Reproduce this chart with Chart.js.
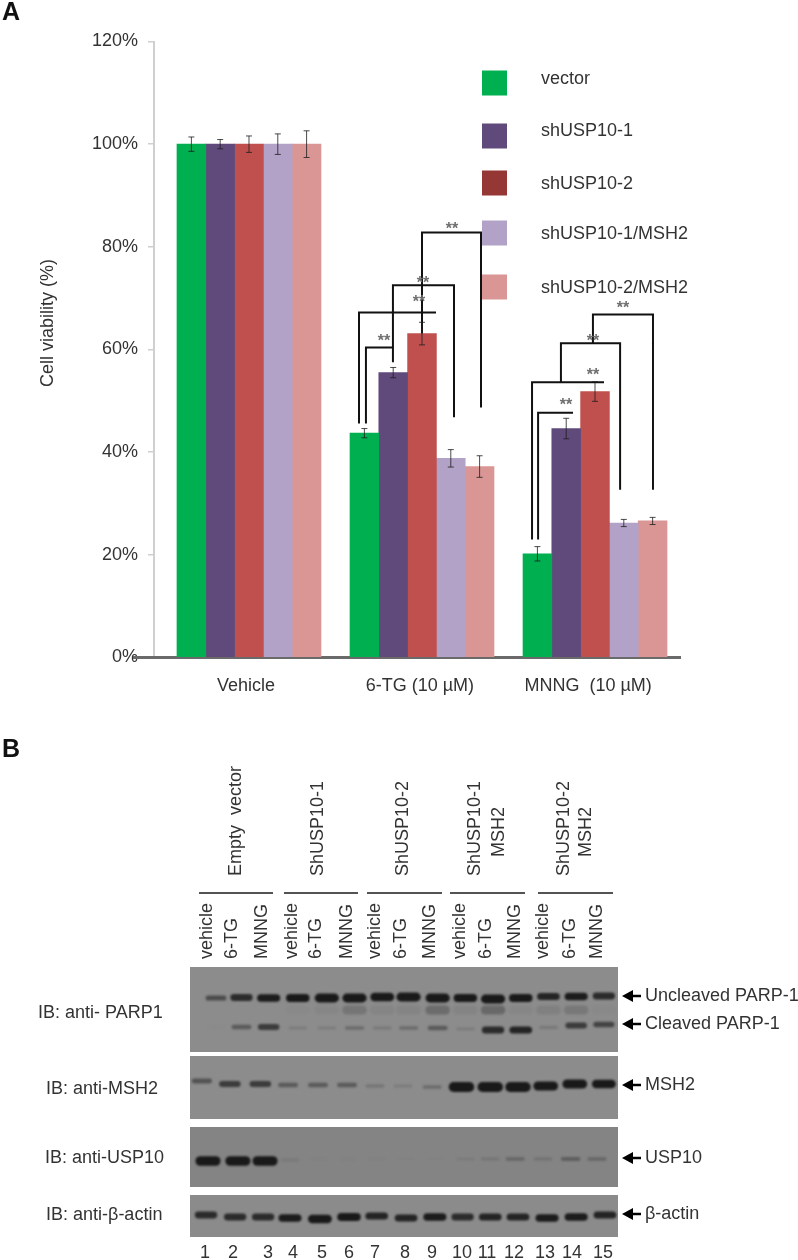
<!DOCTYPE html>
<html>
<head>
<meta charset="utf-8">
<script src="https://cdn.jsdelivr.net/npm/chart.js@4"></script>
<style>
  html, body { margin: 0; background: #fff; }
  body { width: 798px; height: 1260px; position: relative; overflow: hidden; }
  canvas { position: absolute; left: 0; display: block; filter: blur(0.4px); }
  #viabilityChart { top: 0; }
  #blotChart { top: 720px; }
</style>
</head>
<body>
<canvas id="viabilityChart" width="798" height="720"></canvas>
<canvas id="blotChart" width="798" height="540"></canvas>
<script>
const FONT = '"Liberation Sans", Arial, sans-serif';
const TEXT = '#333333';

// A: viability bars
const treatments = ['Vehicle', '6-TG (10 µM)', 'MNNG  (10 µM)'];
const groupPos = [1, 2, 3];
const labelPos = [0.983, 1.988, 2.96];
const yTicks = [0, 20, 40, 60, 80, 100, 120];
const seriesNames = ['vector', 'shUSP10-1', 'shUSP10-2', 'shUSP10-1/MSH2', 'shUSP10-2/MSH2'];
const barColors = ['#00b050', '#604a7b', '#c0504d', '#b2a2c7', '#d99694'];
const legendColors = ['#00b050', '#604a7b', '#953735', '#b2a2c7', '#d99694'];
const vector = [100, 43.7, 20.2];
const shUsp1 = [100, 55.5, 44.6];
const shUsp2 = [100, 63.1, 51.8];
const shUsp1Msh2 = [100, 38.8, 26.2];
const shUsp2Msh2 = [100, 37.2, 26.6];
const vectorErr = [1.4, 0.9, 1.4];
const shUsp1Err = [0.9, 1.0, 2.0];
const shUsp2Err = [1.6, 2.2, 1.9];
const shUsp1Msh2Err = [2.0, 1.7, 0.7];
const shUsp2Msh2Err = [2.6, 2.1, 0.7];

// significance brackets, in axis units [group position, percent]
const brackets = [
  [[1.636, 45.6], [1.636, 67.2], [2.081, 67.2]],
  [[1.676, 45.6], [1.676, 60.4], [1.832, 60.4], [1.832, 57.5]],
  [[1.832, 60.4], [1.832, 72.5], [2.185, 72.5], [2.185, 46.8]],
  [[2.0, 63.1], [2.0, 82.8], [2.341, 82.8], [2.341, 48.7]],
  [[2.636, 23.0], [2.636, 53.6], [3.052, 53.6]],
  [[2.671, 23.0], [2.671, 47.7], [2.873, 47.7]],
  [[2.803, 53.6], [2.803, 61.2], [3.145, 61.2], [3.145, 32.7]],
  [[2.988, 61.2], [2.988, 66.8], [3.335, 66.8], [3.335, 32.7]]
];
const starX = [2.173, 2.006, 1.983, 1.78, 3.162, 2.988, 2.988, 2.832];
const starY = [84.5, 74.0, 70.3, 62.7, 69.0, 62.7, 56.1, 50.1];

const seriesValues = [vector, shUsp1, shUsp2, shUsp1Msh2, shUsp2Msh2];
const seriesErrors = [vectorErr, shUsp1Err, shUsp2Err, shUsp1Msh2Err, shUsp2Msh2Err];

const barSets = seriesValues.map((vals, i) => ({
  type: 'bar',
  label: seriesNames[i],
  data: vals.map((v, j) => ({ x: groupPos[j], y: v })),
  backgroundColor: barColors[i],
  barThickness: 28.8,
  order: 2
}));
const bracketSets = brackets.map(b => ({
  type: 'line',
  data: b.map(p => ({ x: p[0], y: p[1] })),
  borderColor: '#111',
  borderWidth: 2,
  pointRadius: 0,
  tension: 0,
  order: 1
}));

const legendY = [83, 136, 183, 233, 287];
const legendTextY = [79, 131, 184, 234, 288];

const viabilityExtras = {
  id: 'viabilityExtras',
  beforeDatasetsDraw(chart) {
    const { ctx, scales: { y } } = chart;
    ctx.save();
    ctx.strokeStyle = '#6a6a6a';
    ctx.lineWidth = 3;
    ctx.beginPath();
    ctx.moveTo(133, y.getPixelForValue(0));
    ctx.lineTo(681, y.getPixelForValue(0));
    ctx.stroke();
    ctx.restore();
  },
  afterDatasetsDraw(chart) {
    const { ctx, scales: { x, y } } = chart;
    ctx.save();
    // error bars
    ctx.strokeStyle = 'rgba(30,30,30,.8)';
    ctx.lineWidth = 1;
    seriesErrors.forEach((errs, i) => {
      const bars = chart.getDatasetMeta(i).data;
      errs.forEach((e, j) => {
        const cx = bars[j].x;
        const top = y.getPixelForValue(seriesValues[i][j] + e);
        const bot = y.getPixelForValue(seriesValues[i][j] - e);
        ctx.beginPath();
        ctx.moveTo(cx, top); ctx.lineTo(cx, bot);
        ctx.moveTo(cx - 3, top); ctx.lineTo(cx + 3, top);
        ctx.moveTo(cx - 3, bot); ctx.lineTo(cx + 3, bot);
        ctx.stroke();
      });
    });
    // stars
    ctx.fillStyle = '#6f6f6f';
    ctx.font = 'bold 16px ' + FONT;
    ctx.textAlign = 'center';
    ctx.textBaseline = 'alphabetic';
    starX.forEach((sx, i) => {
      ctx.fillText('**', x.getPixelForValue(sx), y.getPixelForValue(starY[i]) + 10);
    });
    // legend
    ctx.textAlign = 'left';
    ctx.textBaseline = 'middle';
    ctx.font = '18px ' + FONT;
    seriesNames.forEach((name, i) => {
      ctx.fillStyle = legendColors[i];
      ctx.fillRect(482, legendY[i] - 12.5, 25, 25);
      ctx.fillStyle = TEXT;
      ctx.fillText(name, 541, legendTextY[i]);
    });
    // y title and panel letter
    ctx.save();
    ctx.translate(48, 323);
    ctx.rotate(-Math.PI / 2);
    ctx.textAlign = 'center';
    ctx.fillText('Cell viability (%)', 0, 0);
    ctx.restore();
    ctx.fillStyle = '#111';
    ctx.font = 'bold 25px ' + FONT;
    ctx.textBaseline = 'alphabetic';
    ctx.fillText('A', 2, 20);
    ctx.restore();
  }
};

new Chart(document.getElementById('viabilityChart'), {
  data: { datasets: [...barSets, ...bracketSets] },
  options: {
    responsive: false,
    animation: false,
    layout: { padding: { top: 41.5, right: 117, left: 0, bottom: 0 } },
    plugins: { legend: { display: false }, tooltip: { enabled: false } },
    scales: {
      x: {
        type: 'linear',
        offset: false,
        min: 0.451,
        max: 3.497,
        grid: { display: false, offset: false },
        border: { display: false },
        afterFit: s => { s.height = 62.5; },
        afterBuildTicks: s => { s.ticks = labelPos.map(value => ({ value })); },
        ticks: {
          autoSkip: false,
          maxRotation: 0,
          padding: 10,
          color: TEXT,
          font: { family: FONT, size: 18 },
          callback: (v, i) => treatments[i]
        }
      },
      y: {
        min: 0,
        max: 120,
        afterFit: s => { s.width = 154; },
        afterBuildTicks: s => { s.ticks = yTicks.map(value => ({ value })); },
        grid: { drawOnChartArea: false, color: '#cfcfcf', tickLength: 6, lineWidth: 1.5 },
        border: { color: '#cfcfcf', width: 2 },
        ticks: {
          padding: 10,
          color: TEXT,
          font: { family: FONT, size: 18 },
          callback: v => v + '%'
        }
      }
    }
  },
  plugins: [viabilityExtras]
});

// B: immunoblots, band x in lane units, band y in px below the top of the blot stack
const panelTop = [0, 89, 160, 228];
const panelBottom = [85, 152, 220, 270];
const panelGrey = ['#8c8c8c', '#8c8c8c', '#848484', '#8b8b8b'];

const parpLanes = [1, 1.92, 2.9, 3.95, 5, 6, 7, 7.95, 9, 10, 11, 12, 13, 14, 15];
const uncleavedY = [31, 30.5, 31, 31, 31, 31, 30, 30, 31, 31, 32, 31, 29.5, 29.5, 29];
const uncleavedLevel = [.4, .6, .7, .75, .85, .85, .8, .85, .85, .75, .85, .75, .65, .7, .6];
const cleavedY = [60, 60, 60, 61, 61, 61, 61, 61, 61, 62, 63, 63, 60.5, 58.5, 57.5];
const cleavedLevel = [.02, .3, .5, .1, .1, .2, .12, .2, .3, .1, .6, .65, .12, .5, .45];
const smearY = [43, 43, 43, 43, 43, 43, 43, 43, 43, 43, 43, 43, 43, 43, 43];
const smearLevel = [0, 0, 0, .01, .03, .14, .04, .05, .2, .05, .22, .03, .07, .12, .02];

const msh2Lanes = [.49, 1.5, 2.6, 3.6, 4.68, 5.73, 6.74, 7.75, 8.8, 9.86, 10.9, 11.9, 12.9, 13.95, 15];
const msh2Y = [114, 117, 117, 118, 118, 118, 119, 119, 120, 120, 120, 120, 119, 117, 117];
const msh2Level = [.35, .5, .5, .3, .3, .3, .15, .1, .2, 1, 1, 1, .9, .9, .8];

const usp10Lanes = [.71, 1.79, 2.77, 3.67, 4.7, 5.75, 6.8, 7.85, 8.9, 10, 10.9, 11.8, 12.8, 13.8, 14.75];
const usp10Y = [194, 194, 194, 193, 192, 192, 192, 192, 192, 192, 192, 192, 192, 192, 192];
const usp10Level = [.95, .95, .95, .08, .02, .02, .02, .01, .01, .06, .1, .2, .12, .25, .2];

const actinLanes = [.64, 1.69, 2.7, 3.67, 4.75, 5.8, 6.8, 7.86, 8.9, 9.9, 10.9, 11.9, 12.95, 14, 15.04];
const actinY = [248, 250, 250, 251, 252, 250, 249, 251, 250, 250, 250, 250, 251, 250, 248];
const actinLevel = [.6, .6, .6, .7, .8, .75, .65, .65, .7, .6, .65, .65, .7, .7, .65];

const laneWords = ['vehicle', '6-TG', 'MNNG'];
const laneWordX = [207, 232, 262, 292, 316, 347, 375, 401, 430, 460, 486, 515, 543, 570, 597];
const laneNumberX = [205, 233, 268, 293, 322, 349, 375, 405, 432, 462, 487, 514, 545, 572, 603];
const groupLines = [[199, 273], [284, 358], [367, 442], [450, 525], [538, 613]];
const groupTitles = [
  { x: 236, text: 'Empty  vector' },
  { x: 318, text: 'ShUSP10-1' },
  { x: 403, text: 'ShUSP10-2' },
  { x: 475, text: 'ShUSP10-1', second: { x: 499, text: 'MSH2' } },
  { x: 564, text: 'ShUSP10-2', second: { x: 586, text: 'MSH2' } }
];
const blotLabels = [
  ['IB: anti- PARP1', 38, 1013],
  ['IB: anti-MSH2', 46, 1089],
  ['IB: anti-USP10', 45, 1158],
  ['IB: anti-β-actin', 46, 1215]
];
const arrowLabels = [
  ['Uncleaved PARP-1', 996],
  ['Cleaved PARP-1', 1024],
  ['MSH2', 1085],
  ['USP10', 1158],
  ['β-actin', 1214]
];

function bandSet(lanes, ys, levels, fixedWidth) {
  const pts = [];
  lanes.forEach((x, i) => {
    pts.push({ x: x - 0.28, y: ys[i] }, { x: x + 0.28, y: ys[i] }, { x: x + 0.28, y: null });
  });
  const lvl = c => levels[Math.floor(c.p0DataIndex / 3)];
  return {
    type: 'line',
    data: pts,
    pointRadius: 0,
    borderCapStyle: 'round',
    borderColor: 'rgba(25,25,25,.8)',
    spanGaps: false,
    segment: {
      borderColor: c => 'rgba(25,25,25,' + Math.min(1, lvl(c) * 1.4).toFixed(3) + ')',
      borderWidth: c => fixedWidth || 2 + 8 * lvl(c)
    }
  };
}

const offsetY = 720;
const blotExtras = {
  id: 'blotExtras',
  beforeDatasetsDraw(chart) {
    const { ctx, chartArea: a, scales: { y } } = chart;
    panelTop.forEach((t, i) => {
      const top = y.getPixelForValue(t);
      ctx.fillStyle = panelGrey[i];
      ctx.fillRect(a.left, top, a.right - a.left, y.getPixelForValue(panelBottom[i]) - top);
    });
    ctx.save();
    ctx.filter = 'blur(1px)';
  },
  afterDatasetsDraw(chart) {
    const ctx = chart.ctx;
    ctx.restore();
    ctx.save();
    ctx.fillStyle = TEXT;
    ctx.font = '18px ' + FONT;

    const vertical = (text, x, y, align) => {
      ctx.save();
      ctx.translate(x, y - offsetY);
      ctx.rotate(-Math.PI / 2);
      ctx.textAlign = align;
      ctx.textBaseline = 'middle';
      ctx.fillText(text, 0, 0);
      ctx.restore();
    };
    laneWordX.forEach((x, i) => vertical(laneWords[i % 3], x, 959, 'left'));
    groupTitles.forEach(g => {
      vertical(g.text, g.x, 876, 'left');
      if (g.second) vertical(g.second.text, g.second.x, 832, 'center');
    });
    ctx.strokeStyle = '#1a1a1a';
    ctx.lineWidth = 1.5;
    groupLines.forEach(l => {
      ctx.beginPath();
      ctx.moveTo(l[0], 893 - offsetY);
      ctx.lineTo(l[1], 893 - offsetY);
      ctx.stroke();
    });

    ctx.textBaseline = 'middle';
    ctx.textAlign = 'center';
    laneNumberX.forEach((x, i) => ctx.fillText(String(i + 1), x, 1253 - offsetY));
    ctx.textAlign = 'left';
    blotLabels.forEach(l => ctx.fillText(l[0], l[1], l[2] - offsetY));

    arrowLabels.forEach(l => {
      const ay = l[1] - offsetY;
      ctx.fillStyle = '#000';
      ctx.strokeStyle = '#000';
      ctx.lineWidth = 2.5;
      ctx.beginPath();
      ctx.moveTo(622, ay); ctx.lineTo(633, ay - 6); ctx.lineTo(633, ay + 6);
      ctx.closePath();
      ctx.fill();
      ctx.beginPath();
      ctx.moveTo(630, ay); ctx.lineTo(641, ay);
      ctx.stroke();
      ctx.fillStyle = TEXT;
      ctx.fillText(l[0], 645, ay);
    });

    ctx.fillStyle = '#111';
    ctx.font = 'bold 25px ' + FONT;
    ctx.textBaseline = 'alphabetic';
    ctx.fillText('B', 2, 757 - offsetY);
    ctx.restore();
  }
};

new Chart(document.getElementById('blotChart'), {
  data: {
    datasets: [
      bandSet(parpLanes, smearY, smearLevel, 9),
      bandSet(parpLanes, uncleavedY, uncleavedLevel),
      bandSet(parpLanes, cleavedY, cleavedLevel),
      bandSet(msh2Lanes, msh2Y, msh2Level),
      bandSet(usp10Lanes, usp10Y, usp10Level),
      bandSet(actinLanes, actinY, actinLevel)
    ]
  },
  options: {
    responsive: false,
    animation: false,
    layout: { padding: { left: 190, right: 180, top: 247, bottom: 23 } },
    plugins: { legend: { display: false }, tooltip: { enabled: false } },
    scales: {
      x: { type: 'linear', min: 0.061, max: 15.51, display: false },
      y: { min: 0, max: 270, reverse: true, display: false }
    }
  },
  plugins: [blotExtras]
});
</script>
</body>
</html>
